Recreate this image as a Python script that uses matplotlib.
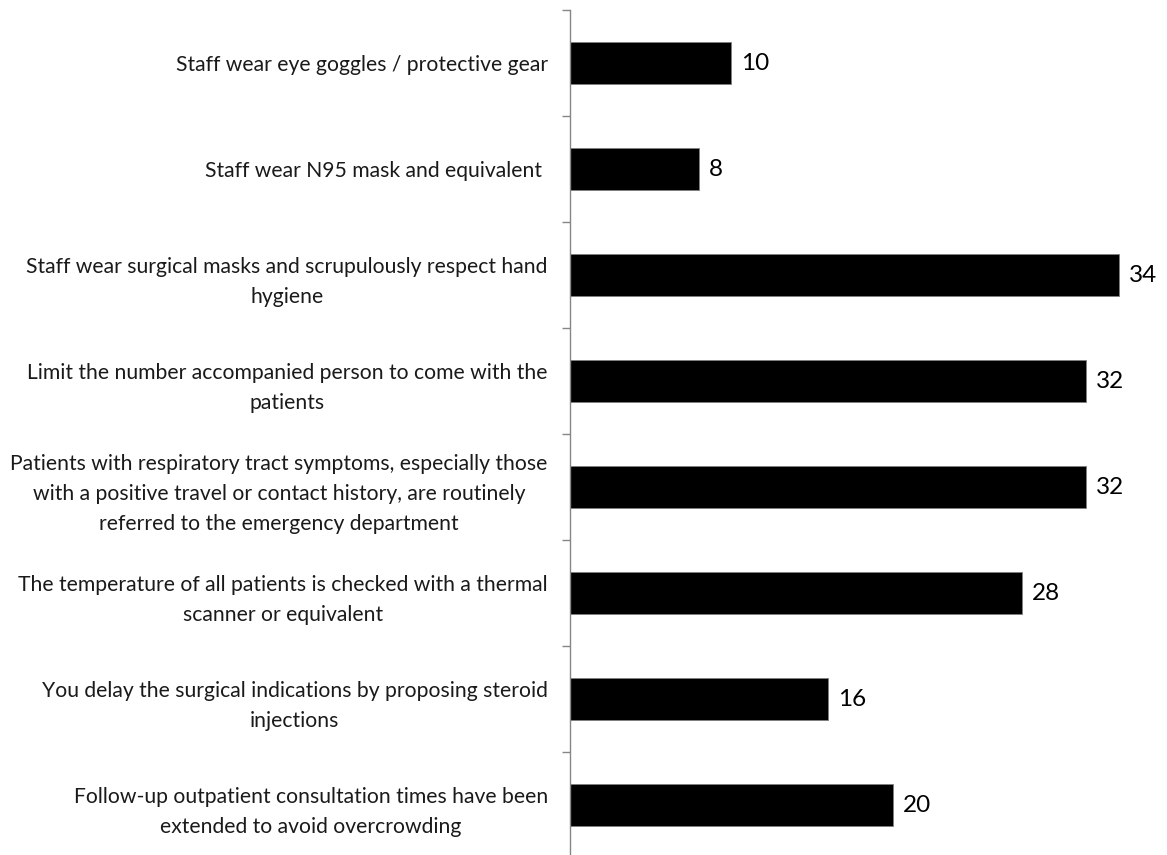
import numpy as np
import matplotlib
matplotlib.use('Agg')
import matplotlib.pyplot as plt
from matplotlib.ticker import FixedLocator


#-------------------------------------------------------------------
# chart data, top to bottom as in the picture
categories = [
    'Staff wear eye goggles / protective gear',
    'Staff wear N95 mask and equivalent ',
    'Staff wear surgical masks and scrupulously respect hand\nhygiene',
    'Limit the number accompanied person to come with the\npatients',
    'Patients with respiratory tract symptoms, especially those\n'
    'with a positive travel or contact history, are routinely\n'
    'referred to the emergency department',
    'The temperature of all patients is checked with a thermal\nscanner or equivalent',
    'You delay the surgical indications by proposing steroid\ninjections',
    'Follow-up outpatient consultation times have been\nextended to avoid overcrowding',
]
counts = [10, 8, 34, 32, 32, 28, 16, 20]

axis_grey = '#868686'

plt.rcParams['font.family'] = ['Lato', 'DejaVu Sans']

fig = plt.figure(figsize=(11.67, 8.55), dpi=100)
ax = fig.add_axes([570 / 1167, -3 / 855, 581 / 1167, 848 / 855])

y = np.arange(len(categories))
bars = ax.barh(y, counts, height=0.4, color='black', edgecolor='#7f7f7f', linewidth=0.6)

ax.set_xlim(0, 36)
ax.set_ylim(len(categories) - 0.5, -0.5)

# labels on the category centres, tick marks on the boundaries
ax.set_yticks(y)
ax.set_yticklabels(categories, fontsize=15.2, color='#1a1a1a',
                   multialignment='center', linespacing=1.62)
ax.tick_params(axis='y', which='major', length=0, pad=16)
ax.yaxis.set_minor_locator(FixedLocator(np.arange(-0.5, len(categories) + 0.5, 1)))
ax.tick_params(axis='y', which='minor', length=5.8, width=1.0, color=axis_grey)

ax.set_xticks([])
for side in ['top', 'right', 'bottom']:
    ax.spines[side].set_visible(False)
ax.spines['left'].set_color(axis_grey)
ax.spines['left'].set_linewidth(1.0)

ax.bar_label(bars, labels=[str(c) for c in counts], padding=7, fontsize=17.5, color='black')

fig.savefig('out.png', dpi=100)
